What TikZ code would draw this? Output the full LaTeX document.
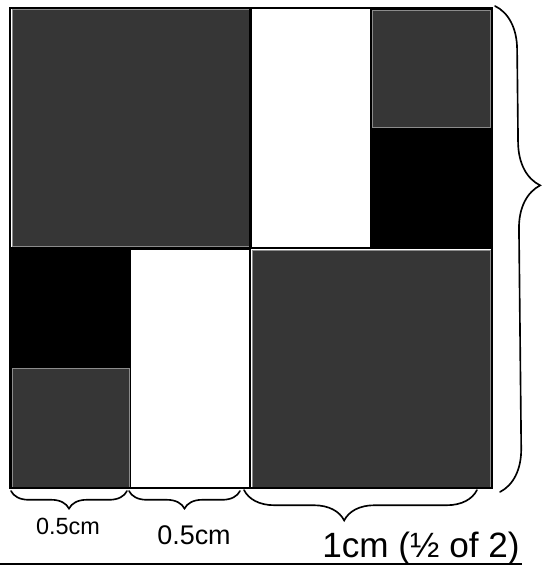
\documentclass[tikz,border=0pt]{standalone}
\usepackage{fontspec}
\setmainfont{Liberation Sans}
\usepackage{tikz}
\usetikzlibrary{decorations.pathreplacing}
\definecolor{stipple}{HTML}{363636}
\tikzset{
  graycell/.style={fill=stipple,draw=black!45,line width=0.5pt},
  blackcell/.style={fill=black,draw=black,line width=0.5pt},
  whitecell/.style={fill=white,draw=black,line width=0.5pt},
  handbrace/.style={decorate,decoration={brace,amplitude=#1},line width=1.4pt,line cap=round},
  lbl/.style={inner sep=0pt}
}
\begin{document}
\begin{tikzpicture}[x=0.03cm,y=-0.03cm]
  \useasboundingbox (0,0) rectangle (543,574);
  % top left
  \draw[graycell] (12,9) rectangle (249,246);
  % top right
  \draw[whitecell] (251,8) rectangle (370,247);
  \draw[blackcell] (370,8) rectangle (491,247);
  \draw[graycell] (372,10) rectangle (490,127);
  % bottom left
  \draw[blackcell] (11,249) rectangle (130,488);
  \draw[graycell] (12,368) rectangle (129,487);
  \draw[whitecell] (130,249) rectangle (250,488);
  % bottom right
  \draw[graycell] (252,250) rectangle (490,487);
  % frame and dividers
  \draw[line width=1.6pt] (10,8) rectangle (492,488);
  \draw[line width=1.6pt] (250,8) -- (250,488);
  \draw[line width=1.6pt] (10,248) -- (492,248);
  % braces
  \draw[handbrace=37pt,decoration={aspect=0.37}] (495,6) -- (500,492);
  \draw[handbrace=15pt,decoration={mirror}] (11,491) -- (127,491);
  \draw[handbrace=15pt,decoration={mirror}] (129,491) -- (240,491);
  \draw[handbrace=26pt,decoration={mirror,aspect=0.43}] (244,490) -- (477,490);
  % labels
  \node[lbl] (halfa) at (68,526) {\fontsize{20}{20}\selectfont 0.5cm};
  \node[lbl] (halfb) at (194,535) {\fontsize{23}{23}\selectfont 0.5cm};
  \node[lbl] (whole) at (421,548) {\fontsize{30}{30}\selectfont 1cm (½ of 2)};
  % base line
  \draw[line width=1.2pt] (0,564) -- (522,564);
\end{tikzpicture}
\end{document}
